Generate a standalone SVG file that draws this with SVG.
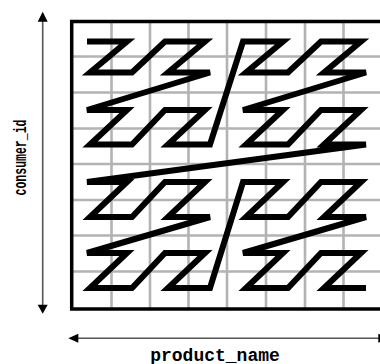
<svg xmlns="http://www.w3.org/2000/svg" width="380" height="364" viewBox="0 0 380 364">
<defs>
<style>
.grid{stroke:#b3b3b3;stroke-width:2.6;fill:none}
.border{stroke:#000;stroke-width:3.5;fill:none}
.curve{stroke:#000;stroke-width:6;fill:none;stroke-linejoin:miter;stroke-linecap:butt}
.axis{stroke:#555;stroke-width:1.6;fill:none}
.head{fill:#000}
.lbl{font-family:"Liberation Mono","Courier New",monospace;font-weight:bold;font-size:18px;fill:#000}
</style>
</defs>
<rect width="380" height="364" fill="#fff"/>
<g id="grid">
<path class="grid" d="M111.5,21.5V309M150,21.5V309M188.5,21.5V309M227,21.5V309M266,21.5V309M305,21.5V309M343.5,21.5V309M71.7,56.5H382M71.7,92.5H382M71.7,128.5H382M71.7,164H382M71.7,200H382M71.7,235.5H382M71.7,271.5H382"/>
<rect class="border" x="71.7" y="21.5" width="310.3" height="287.5"/>
</g>
<g id="curve">
<polyline class="curve" points="87,41.5 127,41.5 90,72.5 132,72.5 165,41.5 205,41.5 168,72.5 210,72.5 87,110 127,110 90,144.5 132,144.5 165,110 205,110 168,144.5 210,144.5 243,41.5 283,41.5 246,72.5 288,72.5 321,41.5 361,41.5 324,72.5 366,72.5 243,110 283,110 246,144.5 288,144.5 321,110 361,110 324,144.5 366,144.5 87,182 127,182 90,217 132,217 165,182 205,182 168,217 210,217 87,253 127,253 90,288 132,288 165,253 205,253 168,288 210,288 243,182 283,182 246,217 288,217 321,182 361,182 324,217 366,217 243,253 283,253 246,288 288,288 321,253 361,253 324,288 366,288"/>
</g>
<g id="axis-consumer">
<line class="axis" x1="42.7" y1="20" x2="42.7" y2="305"/>
<polygon class="head" points="42.7,11.7 37.7,21.7 47.7,21.7"/>
<polygon class="head" points="42.7,313.7 37.7,304.7 47.7,304.7"/>
<text class="lbl" transform="translate(26,157.5) rotate(-90)" text-anchor="middle" textLength="76" lengthAdjust="spacingAndGlyphs">consumer_id</text>
</g>
<g id="axis-product">
<line class="axis" x1="76" y1="338.3" x2="380" y2="338.3"/>
<polygon class="head" points="68.3,338.3 78.3,333.8 78.3,342.8"/>
<polygon class="head" points="388.3,338.3 378.3,333.8 378.3,342.8"/>
<text class="lbl" x="215" y="360.5" text-anchor="middle">product_name</text>
</g>
</svg>
